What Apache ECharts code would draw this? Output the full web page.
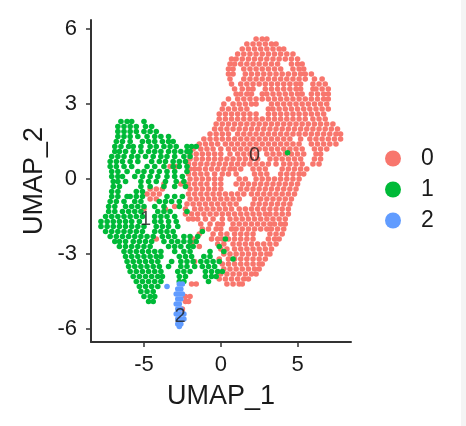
<!DOCTYPE html>
<html>
<head>
<meta charset="utf-8"/>
<title>UMAP</title>
<style>
  html,body{margin:0;padding:0;background:#fff;}
  #main{width:466px;height:426px;}
</style>
<script src="https://cdn.jsdelivr.net/npm/echarts@6/dist/echarts.min.js"></script>
</head>
<body>
<div id="main"></div>
<script type="text/javascript">
var clusterNames = ['0', '1', '2'];
var clusterColors = ['#F8766D', '#00BA38', '#619CFF'];
var xTicks = [-5, 0, 5];
var yTicks = [-6, -3, 0, 3, 6];
var clusterLabels = [[2.2, 0.95, '0'], [-4.9, -1.6, '1'], [-2.65, -5.5, '2']];

// each row is: y, then the x of every cell read at that height
var rows0 = [
[5.6,2.3,2.7,3.0],
[5.4,1.7,2.1,2.5,2.9,3.3,3.6],
[5.2,1.4,1.8,2.2,2.6,3.0,3.4,3.8,4.1],
[5.0,1.1,1.5,1.9,2.3,2.7,3.1,3.5,3.9,4.3,4.7],
[4.8,0.7,1.0,1.4,1.8,2.2,2.6,3.0,3.4,3.8,4.2,4.6,5.0],
[4.6,0.6,0.9,1.3,1.7,2.1,2.5,2.9,3.3,3.7,4.6,5.0,5.3],
[4.4,0.5,0.8,1.5,1.9,2.3,2.7,3.1,3.5,3.9,4.7,5.1,5.4],
[4.2,0.5,0.8,1.6,2.0,2.4,2.8,3.2,3.6,4.0,4.4,4.8,5.2,5.5,5.9],
[4.0,0.6,1.5,1.9,2.3,2.7,3.1,3.5,3.9,4.3,4.7,5.1,5.5,6.1,6.6],
[3.8,0.7,1.3,1.7,2.1,2.5,2.9,3.3,3.7,4.1,4.5,4.9,5.2,6.0,6.4,6.8],
[3.6,0.9,1.4,1.8,2.1,2.9,3.3,3.7,4.1,4.5,4.9,5.2,6.0,6.2,6.6,7.0],
[3.4,1.0,1.3,1.7,2.0,2.7,3.0,3.4,3.8,4.2,4.6,5.0,5.3,5.9,6.3,6.7,7.0],
[3.2,0.5,1.1,1.5,1.9,2.3,2.7,3.1,3.5,3.9,4.3,4.7,5.1,5.5,5.9,6.3,6.7,7.0],
[3.0,0.2,0.8,1.2,1.6,2.0,2.3,3.3,3.7,4.1,4.5,4.9,5.3,5.7,6.1,6.5,6.9],
[2.8,0.1,0.5,0.9,1.3,1.7,3.1,3.4,3.8,4.2,4.6,5.0,5.4,5.8,6.2,6.6,7.0],
[2.6,-0.1,0.3,0.7,1.1,1.5,1.9,2.3,3.1,3.5,3.9,4.3,4.7,5.1,5.5,5.9,6.3,6.7],
[2.4,-0.1,0.3,0.7,1.1,1.5,1.9,2.3,2.7,3.1,3.5,3.9,4.3,4.7,5.1,5.5,6.0,6.4,6.8],
[2.2,-0.3,0.1,0.5,0.9,1.3,1.7,2.1,2.5,2.9,3.3,3.7,4.1,4.5,4.9,5.3,5.7,6.1,6.5,6.9,7.3],
[2.0,-0.4,0.0,0.4,0.8,1.2,1.6,2.0,2.4,2.8,3.2,3.6,4.0,4.4,4.8,5.2,5.6,6.0,6.4,6.8,7.2,7.6],
[1.8,-0.7,-0.3,0.1,0.5,1.1,1.5,1.9,2.3,2.7,3.1,3.5,3.9,4.3,4.7,5.1,5.5,5.9,6.3,6.7,7.1,7.5,7.8],
[1.6,-1.1,-0.7,-0.3,0.1,0.5,0.9,1.3,1.7,2.1,2.5,2.9,3.3,3.7,4.1,4.5,5.2,5.8,6.2,6.6,7.0,7.4,7.8],
[1.4,-1.4,-1.0,-0.6,-0.2,0.3,0.7,1.1,1.5,1.9,2.3,2.7,3.1,3.5,3.9,4.3,4.7,5.1,5.9,6.3,6.7,7.1,7.5],
[1.2,-1.8,-1.3,-0.9,-0.5,0.0,0.5,0.9,1.3,1.7,2.1,2.5,2.9,3.3,3.7,4.1,4.5,4.9,5.3,6.1,6.5,6.9],
[1.0,-2.0,-1.6,-1.2,-0.8,-0.4,0.0,0.6,1.1,1.5,1.9,2.3,3.0,3.4,3.8,4.2,4.6,5.0,5.4,6.2,6.5],
[0.8,-2.0,-1.6,-1.2,-0.8,-0.4,0.0,0.4,0.8,1.2,1.6,2.0,2.4,3.2,3.6,4.0,4.4,4.8,5.2,6.1,6.5],
[0.6,-2.1,-1.7,-1.3,-0.9,-0.5,-0.1,0.3,0.7,1.1,1.5,1.9,2.3,2.7,3.1,3.6,4.1,4.5,4.9,5.3,6.0,6.4],
[0.4,-2.0,-1.7,-1.4,-1.0,-0.6,-0.2,0.2,0.6,0.9,1.3,2.1,2.5,2.9,4.0,4.4,4.8,5.2,5.6],
[0.2,-2.1,-1.7,-1.3,-0.9,-0.4,0.1,0.5,1.0,2.2,2.6,3.0,3.9,4.3,4.7,5.1,5.4],
[0.0,-2.0,-1.6,-1.2,-0.8,-0.4,0.0,1.2,1.6,2.3,2.7,3.1,3.5,3.9,4.3,4.7,5.1],
[-0.2,-2.1,-1.7,-1.3,-0.9,-0.4,0.0,1.0,1.4,1.8,2.2,2.6,3.0,3.4,3.8,4.2,4.6,5.0],
[-0.4,-2.0,-1.6,-1.2,-0.8,-0.4,0.0,1.3,1.7,2.1,2.5,2.9,3.3,3.7,4.1,4.5,4.9],
[-0.6,-2.1,-1.7,-1.3,-0.9,-0.5,-0.1,0.3,0.7,1.1,1.5,2.0,2.4,2.8,3.2,3.6,4.0,4.4,4.8],
[-0.8,-2.0,-1.6,-1.2,-0.8,-0.4,0.0,0.4,0.8,1.2,2.2,2.6,3.0,3.4,3.8,4.2,4.6],
[-1.0,-2.2,-1.8,-1.4,-1.0,-0.6,-0.2,0.2,0.6,1.0,2.1,2.5,2.9,3.3,3.7,4.1,4.5],
[-1.2,-2.3,-1.7,-1.3,-0.9,-0.5,-0.1,0.3,0.7,1.2,1.6,2.0,2.4,2.8,3.2,3.6,4.0,4.4],
[-1.4,-2.3,-1.9,-1.5,-1.1,-0.7,-0.3,0.1,0.5,0.9,1.3,1.7,2.1,2.5,2.9,3.2,3.6,4.0,4.4],
[-1.6,-2.1,-1.8,-1.5,-1.0,-0.5,0.1,0.6,1.0,1.4,1.8,2.2,2.6,3.0,3.4,3.8,4.2],
[-1.8,-1.3,-0.7,-0.2,0.1,0.8,1.2,1.6,2.0,2.4,2.8,3.2,3.5,3.9,4.2],
[-2.0,-1.2,-0.8,-0.3,0.0,0.7,1.0,1.4,1.8,2.2,2.6,3.0,3.3,3.7,4.1],
[-2.2,-1.4,-0.5,0.0,0.4,0.9,1.3,1.7,2.1,3.2,3.6,4.0],
[-2.4,-1.9,-0.6,-0.2,0.1,0.5,0.9,1.3,1.7,2.1,3.1,3.5,3.8],
[-2.6,-1.9,-0.2,0.2,0.8,1.2,1.6,2.0,2.4,2.8,3.2,3.6],
[-2.8,0.0,0.4,0.9,1.3,1.7,2.1,2.5,2.9,3.3],
[-3.0,0.2,0.6,1.0,1.4,1.8,2.2,2.6,3.0,3.2],
[-3.2,-0.1,0.5,0.9,1.3,1.7,2.1,2.5,2.9],
[-3.4,0.1,0.5,0.9,1.3,1.7,2.1,2.5,2.7],
[-3.6,0.2,0.6,1.0,1.4,1.8,2.2,2.5],
[-3.8,0.0,0.4,0.8,1.2,1.6,2.0,2.3],
[-4.0,-0.1,0.3,0.7,1.1,1.5,1.8],
[-4.2,0.4,0.8,1.2,1.4],
// stray cells among the green cloud and beside the blue strand
[0.5,-2.9,-3.3],
[-0.2,-3.7,-2.6],
[-0.4,-4.6,-4.2,-3.8],
[-0.6,-4.8,-4.4,-4.0],
[-0.8,-4.6,-4.2],
[-1.1,-3.0],
[-1.2,-5.0,-3.6],
[-2.4,-4.2,-1.8],
[-2.7,-1.4],
[-3.3,-1.7],
[-4.2,-1.6,-1.9],
[-4.7,-2.3,-2.0],
[-4.9,-2.3,-2.1],
[-5.2,-2.5]
];

var rows1 = [
[2.3,-6.5,-6.1,-5.8,-5.0],
[2.1,-6.7,-6.3,-5.9,-5.5,-4.9,-4.5],
[1.9,-6.7,-6.3,-5.9,-5.5,-5.0,-4.6,-4.2],
[1.7,-6.7,-6.3,-5.9,-5.4,-4.8,-4.3,-3.9,-3.4],
[1.5,-6.8,-6.4,-5.9,-5.1,-4.7,-4.3,-3.8,-3.4,-3.1],
[1.3,-6.9,-6.5,-6.0,-5.7,-5.2,-4.6,-4.2,-3.7,-3.3,-2.9,-2.2,-1.9,-1.6],
[1.1,-6.9,-6.6,-6.2,-5.7,-5.2,-4.7,-4.3,-3.9,-3.4,-3.0,-2.6,-2.2,-2.0],
[0.9,-7.1,-6.7,-6.3,-5.8,-5.4,-4.9,-4.4,-3.9,-3.5,-3.0,-2.4,-2.0],
[0.7,-7.2,-6.8,-6.4,-5.9,-5.4,-4.5,-4.0,-3.6,-3.1,-2.7,-2.3],
[0.5,-7.2,-6.8,-6.3,-5.8,-4.8,-4.3,-3.7,-3.1,-2.7,-2.2],
[0.3,-7.1,-6.7,-6.1,-5.4,-5.0,-4.5,-4.0,-3.5,-3.0,-2.2],
[0.1,-7.1,-6.7,-6.4,-5.6,-5.1,-4.6,-4.1,-3.5,-3.0,-2.5],
[-0.1,-7.0,-6.7,-6.2,-5.2,-4.7,-4.2,-3.6,-2.9,-2.4],
[-0.3,-7.0,-6.6,-5.2,-4.6,-3.7,-3.0,-2.3],
[-0.5,-7.1,-6.7,-5.5,-5.1],
[-0.7,-7.1,-6.7,-6.1,-5.9,-5.5,-5.1,-3.5,-3.0,-2.5],
[-0.9,-7.2,-6.8,-6.3,-5.6,-5.2,-4.0,-3.6,-3.2,-2.7],
[-1.1,-7.3,-6.9,-6.2,-5.8,-5.4,-5.0,-4.3,-3.7,-2.7],
[-1.3,-7.3,-6.9,-6.4,-6.0,-5.6,-5.2,-4.1,-3.7,-3.3,-2.2],
[-1.5,-7.5,-7.1,-6.7,-6.3,-5.9,-5.5,-5.1,-4.3,-3.9,-3.5,-3.0],
[-1.7,-7.8,-7.4,-7.0,-6.6,-6.2,-5.8,-5.3,-4.3,-3.9,-3.4,-2.9],
[-1.9,-7.8,-7.4,-7.0,-6.6,-6.2,-5.8,-5.4,-5.0,-4.2,-3.8,-3.4,-2.8],
[-2.1,-7.5,-7.1,-6.7,-6.3,-5.9,-5.5,-5.1,-4.3,-3.9,-3.5,-3.1,-1.2],
[-2.3,-7.2,-6.8,-6.4,-6.0,-5.6,-5.2,-4.8,-4.4,-3.8,-3.4,-3.0,-2.4,-2.0,-1.5],
[-2.5,-6.9,-6.6,-6.2,-5.7,-5.3,-4.9,-4.5,-3.7,-3.2,-2.8,-2.4,-2.0,-1.6],
[-2.7,-6.6,-6.2,-5.8,-5.4,-5.0,-4.6,-3.4,-3.0,-2.6,-2.1,-1.8],
[-2.9,-6.3,-5.9,-5.5,-5.1,-4.7,-4.3,-3.9,-3.0,-2.4,-2.0,-0.7],
[-3.1,-6.2,-5.8,-5.4,-5.0,-4.6,-4.2,-3.9,-2.7,-2.3,-1.9,-1.1,-0.7],
[-3.3,-6.1,-5.7,-5.3,-4.9,-4.5,-4.1,-3.2,-2.6,-2.2,-1.8,-1.3,-0.9,-0.5,-0.1],
[-3.5,-6.0,-5.6,-5.2,-4.8,-4.4,-4.0,-3.4,-2.6,-2.2,-1.7,-1.2,-0.8,-0.4],
[-3.7,-5.9,-5.5,-5.1,-4.7,-4.3,-3.9,-2.8,-2.4,-2.0,-1.0,-0.6,-0.2,0.1],
[-3.9,-5.7,-5.3,-4.9,-4.5,-4.1,-3.8,-2.7,-2.3,-1.0,-0.6,-0.3],
[-4.1,-5.5,-5.1,-4.7,-4.3,-3.9,-2.7,-2.4,-0.8],
[-4.3,-5.3,-4.9,-4.5,-4.1],
[-4.5,-5.2,-4.8,-4.4],
[-4.7,-5.0,-4.6,-4.3],
[-4.9,-4.7,-4.4],
// stray cells inside cluster 0
[1.05,4.35],
[-2.7,-0.1],
[-2.4,0.3],
[-2.9,0.2],
[-3.2,0.8]
];

var rows2 = [
[-4.2,-2.7,-2.5],
[-4.3,-3.5],
[-4.4,-2.8,-2.6],
[-4.6,-2.9,-2.7,-2.5],
[-4.8,-2.8,-2.6],
[-5.0,-2.9,-2.7],
[-5.2,-2.8,-2.6],
[-5.4,-2.9,-2.7,-2.4],
[-5.6,-2.8,-2.6,-2.4],
[-5.8,-2.8,-2.6],
[-5.9,-2.7]
];

function points(rows) {
    var out = [];
    for (var i = 0; i < rows.length; i++) {
        for (var j = 1; j < rows[i].length; j++) {
            out.push([rows[i][j], rows[i][0]]);
        }
    }
    return out;
}

var clusterRows = [rows0, rows1, rows2];
var series = [];
for (var c = 0; c < clusterRows.length; c++) {
    series.push({
        name: clusterNames[c],
        type: 'scatter',
        symbolSize: 5.6,
        itemStyle: {color: clusterColors[c], opacity: 1},
        silent: true,
        animation: false,
        data: points(clusterRows[c])
    });
}
series.push({
    type: 'scatter',
    symbolSize: 0,
    silent: true,
    animation: false,
    z: 5,
    label: {
        show: true,
        position: 'inside',
        formatter: function (p) { return p.value[2]; },
        fontFamily: 'Liberation Sans',
        fontSize: 20,
        color: '#1a1a1a'
    },
    data: clusterLabels
});

var axisStyle = {onZero: false, lineStyle: {color: '#333', width: 2}};
var tickStyle = {color: '#333', width: 1.5};

var myChart = echarts.init(document.getElementById('main'), null, {renderer: 'canvas'});
myChart.setOption({
    animation: false,
    backgroundColor: '#fff',
    textStyle: {fontFamily: 'Liberation Sans'},
    grid: {left: 91, right: 115, top: 20, bottom: 84},
    xAxis: {
        type: 'value',
        min: -8.45,
        max: 8.48,
        name: 'UMAP_1',
        nameLocation: 'middle',
        nameGap: 41,
        nameMoveOverlap: false,
        nameTextStyle: {fontSize: 27, color: '#1a1a1a', fontFamily: 'Liberation Sans'},
        splitLine: {show: false},
        axisLine: axisStyle,
        axisTick: {length: 5, customValues: xTicks, lineStyle: tickStyle},
        axisLabel: {customValues: xTicks, fontSize: 22, color: '#1a1a1a', margin: 12}
    },
    yAxis: {
        type: 'value',
        min: -6.52,
        max: 6.36,
        name: 'UMAP_2',
        nameLocation: 'middle',
        nameGap: 43,
        nameMoveOverlap: false,
        nameTextStyle: {fontSize: 27, color: '#1a1a1a', fontFamily: 'Liberation Sans'},
        splitLine: {show: false},
        axisLine: axisStyle,
        axisTick: {length: 5, customValues: yTicks, lineStyle: tickStyle},
        axisLabel: {customValues: yTicks, fontSize: 22, color: '#1a1a1a', margin: 14}
    },
    legend: {
        data: clusterNames,
        orient: 'vertical',
        left: 380,
        top: 142,
        icon: 'circle',
        itemWidth: 16,
        itemHeight: 16,
        itemGap: 8,
        textStyle: {fontSize: 23, lineHeight: 16, color: '#1a1a1a', padding: [0, 0, 0, 15]}
    },
    graphic: [{
        type: 'rect',
        shape: {x: 461, y: 0, width: 5, height: 426},
        style: {fill: '#f4f4f4'}
    }],
    series: series
});
</script>
</body>
</html>
